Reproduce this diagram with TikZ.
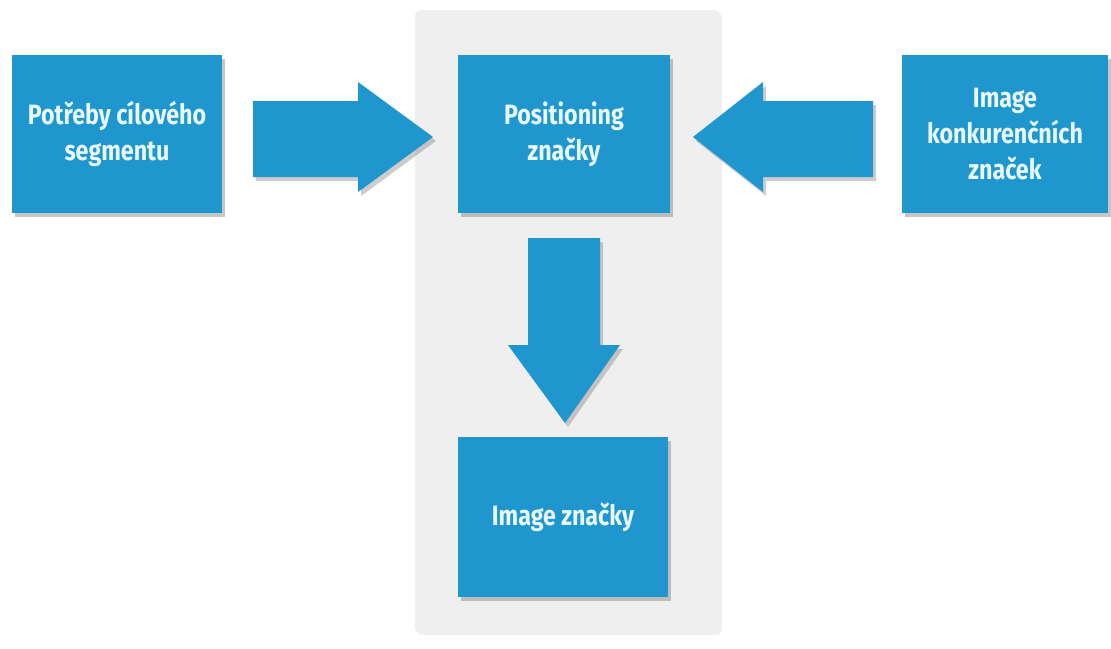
\documentclass[tikz,border=0pt]{standalone}
\usepackage{fontspec}
\setmainfont{Fira Sans}[FakeStretch=0.83]
\usetikzlibrary{shadows}
\definecolor{boxblue}{RGB}{31,150,206}
\definecolor{txt}{RGB}{232,248,255}
\definecolor{panel}{RGB}{239,239,239}
\tikzset{
  bluebox/.style={rectangle, fill=boxblue, text=txt, align=center,
    font=\fontsize{28}{36}\selectfont\bfseries,
    drop shadow={opacity=0.45, shadow xshift=3pt, shadow yshift=-4pt}},
  blockarrow/.style={fill=boxblue,
    drop shadow={opacity=0.4, shadow xshift=3pt, shadow yshift=-4pt}},
}
\begin{document}
\begin{tikzpicture}[x=1pt,y=-1pt]
\useasboundingbox (0,0) rectangle (1111,648);
% panel
\fill[panel, rounded corners=6pt, drop shadow={opacity=0.12, shadow xshift=2pt, shadow yshift=-2pt}] (415,10) rectangle (720,633);
% boxes
\node[bluebox, minimum width=210pt, minimum height=158pt] (need) at (117,134) {Potřeby cílového\\segmentu};
\node[bluebox, minimum width=212pt, minimum height=158pt] (pos) at (564,134) {Positioning\\značky};
\node[bluebox, minimum width=206pt, minimum height=158pt] (comp) at (1005,134) {Image\\konkurenčních\\značek};
\node[bluebox, minimum width=210pt, minimum height=160pt] (img) at (563,517) {Image značky};
% right arrow (need -> pos)
\fill[blockarrow] (253,101) -- (358,101) -- (358,82) -- (433,137) -- (358,192) -- (358,177) -- (253,177) -- cycle;
% left arrow (comp -> pos)
\fill[blockarrow] (873,101) -- (763,101) -- (763,82) -- (693,137) -- (763,192) -- (763,177) -- (873,177) -- cycle;
% down arrow (pos -> img)
\fill[blockarrow] (528,238) -- (600,238) -- (600,345) -- (620,345) -- (565,423) -- (508,345) -- (528,345) -- cycle;
\end{tikzpicture}
\end{document}
